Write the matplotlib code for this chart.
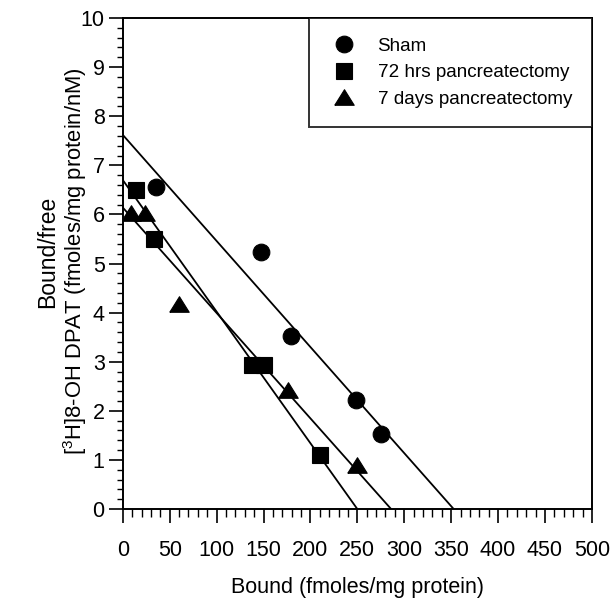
import matplotlib
matplotlib.use("Agg")
import matplotlib.pyplot as plt
from matplotlib.ticker import MultipleLocator

plt.rcParams['font.family'] = ['Liberation Sans', 'DejaVu Sans']
plt.rcParams['mathtext.fontset'] = 'custom'
plt.rcParams['mathtext.rm'] = 'Liberation Sans'

# Scatchard data: bound (fmoles/mg protein) vs bound/free
sham_bound = [35.6, 147.7, 179.0, 249.0, 275.0]
sham_ratio = [6.55, 5.24, 3.52, 2.22, 1.52]

h72_bound = [14.6, 33.5, 138.0, 150.6, 210.0]
h72_ratio = [6.50, 5.50, 2.94, 2.94, 1.10]

d7_bound = [8.4, 24.0, 60.0, 176.6, 250.0]
d7_ratio = [6.02, 6.02, 4.18, 2.42, 0.90]

# Regression lines: y-intercept and Bmax (x-intercept)
fit_intercept = [7.62, 6.70, 6.14]
fit_bmax = [352.7, 250.0, 286.0]

labels = ["Sham", "72 hrs pancreatectomy", "7 days pancreatectomy"]

# flattened triangle, wider than tall
tri = [(-1.0, -0.8), (1.0, -0.8), (0.0, 0.8), (-1.0, -0.8)]
markers = ["o", "s", tri]
marker_sizes = [12, 11.5, 14]

fig = plt.figure(figsize=(6.14, 6.01), dpi=100)
ax = fig.add_axes([0.200, 0.153, 0.764, 0.817])

series = [(sham_bound, sham_ratio), (h72_bound, h72_ratio), (d7_bound, d7_ratio)]
for (xs, ys), lab, m, ms in zip(series, labels, markers, marker_sizes):
    ax.plot(xs, ys, linestyle="none", marker=m, markersize=ms,
            color="black", markeredgewidth=0.8, label=lab, zorder=3)

for b0, bmax in zip(fit_intercept, fit_bmax):
    ax.plot([0, bmax], [b0, 0], color="black", linewidth=1.3, zorder=2)

ax.set_xlim(0, 500)
ax.set_ylim(0, 10)
ax.xaxis.set_major_locator(MultipleLocator(50))
ax.xaxis.set_minor_locator(MultipleLocator(10))
ax.yaxis.set_major_locator(MultipleLocator(1))
ax.yaxis.set_minor_locator(MultipleLocator(0.2))

ax.tick_params(axis="x", which="major", direction="out", length=10, width=1.2,
               pad=12, labelsize=15.5)
ax.tick_params(axis="x", which="minor", direction="out", length=5.5, width=1.0)
ax.tick_params(axis="y", which="major", direction="out", length=10, width=1.2,
               pad=3, labelsize=15.5)
ax.tick_params(axis="y", which="minor", direction="out", length=4.5, width=1.0)

for sp in ax.spines.values():
    sp.set_linewidth(1.4)

ax.set_xlabel("Bound (fmoles/mg protein)", fontsize=15.5, labelpad=12)

fig.text(0.078, 0.581, "Bound/free", rotation=90, fontsize=16.5,
         ha="center", va="center")
fig.text(0.122, 0.565, "[$^{3}$H]8-OH DPAT (fmoles/mg protein/nM)", rotation=90,
         fontsize=15.8, ha="center", va="center")

leg = ax.legend(loc="upper right", borderaxespad=0, fontsize=13.6,
                frameon=True, fancybox=False, edgecolor="black",
                borderpad=1.05, handlelength=1.6, handletextpad=1.0,
                labelspacing=0.48)
leg.get_frame().set_linewidth(1.4)

fig.savefig("out.png", dpi=100)
